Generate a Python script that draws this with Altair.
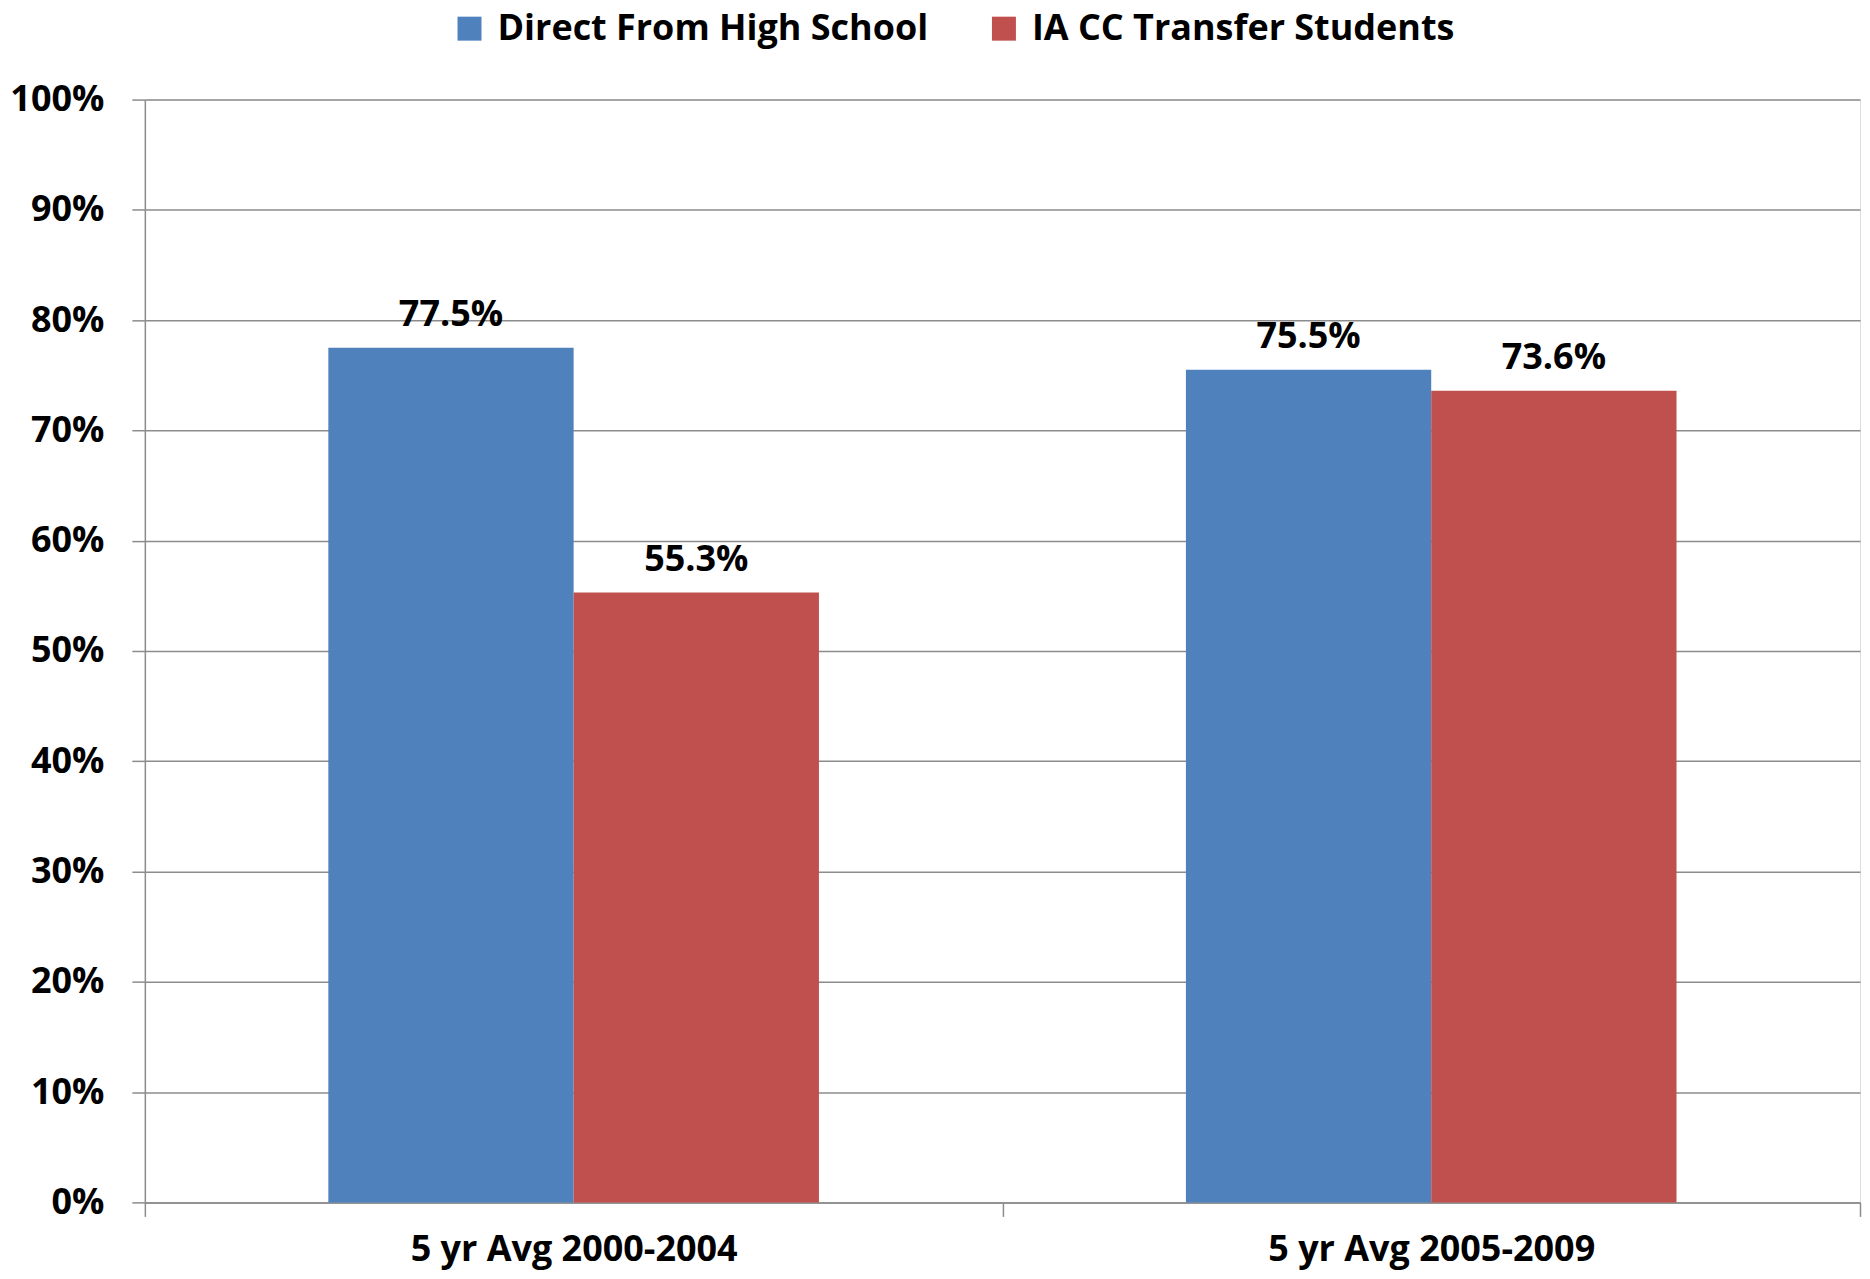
import altair as alt
import pandas as pd

categories = ["5 yr Avg 2000-2004", "5 yr Avg 2005-2009"]
series = ["Direct From High School", "IA CC Transfer Students"]
direct_values = [0.775, 0.755]
transfer_values = [0.553, 0.736]
colors = ["#4F81BD", "#C0504D"]
y_ticks = [0, 0.1, 0.2, 0.3, 0.4, 0.5, 0.6, 0.7, 0.8, 0.9, 1.0]

rows = []
for i, c in enumerate(categories):
    rows.append({"period": c, "group": series[0], "value": direct_values[i]})
    rows.append({"period": c, "group": series[1], "value": transfer_values[i]})
df = pd.DataFrame(rows)

FONT = "Open Sans"
FS = 36
GRID = "#8c8c8c"
W, H = 1717, 1104

base = alt.Chart(df).encode(
    x=alt.X(
        "period:N",
        sort=categories,
        scale=alt.Scale(paddingInner=0, paddingOuter=0),
        axis=alt.Axis(
            title=None, labelAngle=0, tickBand="extent", ticks=True, tickSize=14,
            tickColor=GRID, tickWidth=1.5, domain=True, domainColor=GRID, domainWidth=1.5,
            labelPadding=16, labelFontSize=FS, labelFontWeight="bold", labelColor="black",
            labelFont=FONT, labelLimit=1000, grid=False,
        ),
    ),
    xOffset=alt.XOffset("group:N", sort=series,
                        scale=alt.Scale(paddingInner=0, paddingOuter=0.748)),
    y=alt.Y(
        "value:Q",
        scale=alt.Scale(domain=[0, 1], nice=False),
        axis=alt.Axis(
            values=y_ticks, format=".0%", title=None, grid=True, gridColor=GRID,
            gridWidth=1.5, gridOpacity=1, tickSize=13, tickColor=GRID, tickWidth=1.5,
            domain=True, domainColor=GRID, domainWidth=1.5, labelPadding=28,
            labelFontSize=FS, labelFontWeight="bold", labelColor="black", labelFont=FONT,
        ),
    ),
)

bars = base.mark_bar().encode(
    color=alt.Color(
        "group:N", sort=series,
        scale=alt.Scale(domain=series, range=colors),
        legend=alt.Legend(
            title=None, orient="none", legendX=307, legendY=-89, direction="horizontal",
            symbolType="square", symbolSize=576, symbolStrokeWidth=0, symbolOpacity=1,
            labelFontSize=FS, labelFontWeight="bold", labelFont=FONT, labelColor="black",
            labelOffset=10, columnPadding=57, padding=0, labelLimit=800,
        ),
    )
)

labels = base.mark_text(
    dy=-22, baseline="alphabetic", align="center", fontSize=FS, fontWeight="bold",
    font=FONT, color="black",
).encode(text=alt.Text("value:Q", format=".1%"))

chart = (
    alt.layer(bars, labels)
    .properties(
        width=W, height=H,
        autosize=alt.AutoSizeParams(type="none"),
        padding={"left": 137, "top": 91, "right": 2, "bottom": 68},
    )
    .configure_view(stroke=None)
    .configure(font=FONT, background="white")
)

chart.save("out.html", embed_options={"renderer": "svg", "actions": False})
